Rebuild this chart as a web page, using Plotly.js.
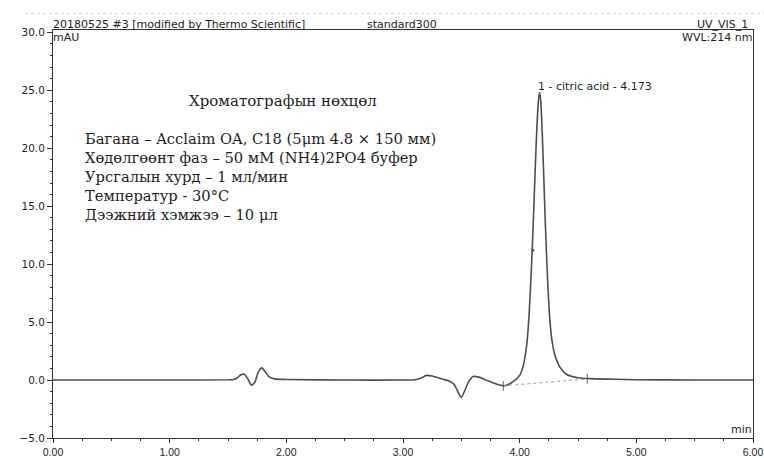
<!DOCTYPE html>
<html>
<head>
<meta charset="utf-8">
<script src="https://cdn.plot.ly/plotly-3.0.1.min.js"></script>
<style>html,body{margin:0;padding:0;background:#fff;}#chart{width:764px;height:458px;}</style>
</head>
<body>
<div id="chart"></div>
<script>
// Retention time (min) and detector signal (mAU)
const timeMin = [0, 0.5, 1.0, 1.5, 1.55, 1.58, 1.61, 1.64, 1.67, 1.70, 1.73, 1.76, 1.79, 1.82, 1.85, 1.9, 2.0, 2.5, 3.0, 3.1, 3.15, 3.2, 3.25, 3.3, 3.35, 3.4, 3.44, 3.47, 3.50, 3.53, 3.56, 3.6, 3.65, 3.7, 3.75, 3.8, 3.86, 3.9, 3.95, 4.0, 4.03, 4.06, 4.08, 4.10, 4.12, 4.14, 4.16, 4.17, 4.18, 4.20, 4.22, 4.24, 4.26, 4.28, 4.30, 4.33, 4.36, 4.40, 4.45, 4.5, 4.6, 4.8, 5.0, 5.5, 6.0];
const signalMAU = [0, 0, 0, 0.02, 0.05, 0.2, 0.45, 0.5, 0.1, -0.45, -0.2, 0.7, 1.05, 0.7, 0.3, 0.1, 0.05, 0.0, 0.0, 0.02, 0.15, 0.4, 0.35, 0.2, 0.05, -0.1, -0.4, -1.0, -1.5, -0.9, -0.2, 0.3, 0.25, 0.05, -0.15, -0.35, -0.5, -0.4, -0.1, 0.4, 1.2, 3.0, 5.5, 9.5, 14.5, 20, 24, 24.8, 24.2, 19.5, 13.5, 8.5, 5.0, 3.2, 2.2, 1.4, 0.9, 0.5, 0.3, 0.2, 0.12, 0.07, 0.03, 0.0, 0.0];

// Integration baseline of peak 1
const baseTime = [3.86, 4.58];
const baseSignal = [-0.5, 0.1];

// Small marker on the left flank of the peak
const flankTime = [4.113];
const flankSignal = [11.2];

// Peak label
const peakName = "1 - citric acid - 4.173";
const peakTime = 4.17;
const peakHeight = 24.8;

// Header and axis texts
const headerLeft = "20180525 #3 [modified by Thermo Scientific]";
const headerMid = "standard300";
const headerRight = "UV_VIS_1";
const yUnit = "mAU";
const wavelength = "WVL:214 nm";
const xUnit = "min";

// Conditions text block
const condTitle = "Хроматографын нөхцөл";
const condLines = [
  "Багана – Acclaim OA, C18 (5μm 4.8 × 150 мм)",
  "Хөдөлгөөнт фаз – 50 мМ (NH4)2PO4 буфер",
  "Урсгалын хурд – 1 мл/мин",
  "Температур - 30°C",
  "Дээжний хэмжээ – 10 μл"
];

const ink = '#333';
const txt = '#1e1e1e';
const sans = 'DejaVu Sans, Verdana, sans-serif';
const narrowSans = 'Liberation Sans, Arial, sans-serif';
const serif = 'DejaVu Serif, Liberation Serif, serif';

const traces = [
  {x: timeMin, y: signalMAU, type: 'scatter', mode: 'lines',
   line: {color: '#46524b', width: 1.6, shape: 'spline', smoothing: 0.6}},
  {x: baseTime, y: baseSignal, type: 'scatter', mode: 'lines+markers',
   line: {color: '#9aa29d', width: 1, dash: 'dot'},
   marker: {symbol: 'line-ns', size: 7, line: {color: '#666', width: 1}}},
  {x: flankTime, y: flankSignal, type: 'scatter', mode: 'markers',
   marker: {symbol: 'circle', size: 3, color: '#555'}}
];

const condY0 = 20.86, condStep = 1.64;
const annotations = [
  {xref: 'paper', yref: 'paper', x: 0, y: 1, xanchor: 'left', yanchor: 'bottom', xshift: -2, yshift: -3,
   text: headerLeft, showarrow: false, font: {family: sans, size: 11, color: txt}},
  {xref: 'paper', yref: 'paper', x: 0.446, y: 1, xanchor: 'left', yanchor: 'bottom', yshift: -3,
   text: headerMid, showarrow: false, font: {family: sans, size: 11, color: txt}},
  {xref: 'paper', yref: 'paper', x: 1, y: 1, xanchor: 'right', yanchor: 'bottom', xshift: -3, yshift: -3,
   text: headerRight, showarrow: false, font: {family: sans, size: 11, color: txt}},
  {xref: 'paper', yref: 'paper', x: 0, y: 1, xanchor: 'left', yanchor: 'top', xshift: -2, yshift: 1,
   text: yUnit, showarrow: false, font: {family: sans, size: 11, color: txt}},
  {xref: 'paper', yref: 'paper', x: 1, y: 1, xanchor: 'right', yanchor: 'top', xshift: 1, yshift: 1,
   text: wavelength, showarrow: false, font: {family: sans, size: 11, color: txt}},
  {xref: 'paper', yref: 'paper', x: 1, y: 0, xanchor: 'right', yanchor: 'bottom', xshift: 1,
   text: xUnit, showarrow: false, font: {family: sans, size: 11, color: txt}},
  {x: peakTime, y: peakHeight, xanchor: 'left', yanchor: 'bottom', xshift: -4, yshift: -2,
   text: peakName, showarrow: false, font: {family: sans, size: 11, color: txt}},
  {x: 1.97, y: 24.05, xanchor: 'center', yanchor: 'middle', text: condTitle, showarrow: false,
   font: {family: serif, size: 15, color: txt}}
];
condLines.forEach((t, i) => annotations.push({
  x: 0.257, y: condY0 - i * condStep, xanchor: 'left', yanchor: 'middle', text: t, showarrow: false,
  font: {family: serif, size: 14.7, color: txt}
}));

const layout = {
  width: 764, height: 458,
  margin: {l: 53, r: 11, t: 30, b: 20, pad: 0},
  paper_bgcolor: '#fff', plot_bgcolor: '#fff',
  showlegend: false,
  xaxis: {range: [0, 6], dtick: 1, tickformat: '.2f', showgrid: false, zeroline: false,
    showline: true, mirror: true, linecolor: ink, linewidth: 1,
    ticks: 'outside', ticklen: 4, tickcolor: ink,
    minor: {dtick: 0.25, ticks: 'outside', ticklen: 2, tickcolor: ink},
    tickfont: {family: narrowSans, size: 10.5, color: txt}},
  yaxis: {range: [-5, 30.2], tick0: 0, dtick: 5, tickformat: '.1f', showgrid: false, zeroline: false,
    showline: true, mirror: true, linecolor: ink, linewidth: 1,
    ticks: 'outside', ticklen: 5, tickcolor: ink,
    minor: {dtick: 1, ticks: 'outside', ticklen: 2, tickcolor: ink},
    tickfont: {family: sans, size: 10.5, color: txt}},
  annotations: annotations,
  shapes: [
    {type: 'line', xref: 'paper', yref: 'paper', x0: -0.04, x1: 1.02, y0: 1.04, y1: 1.04,
     line: {color: '#c8ccd6', width: 1, dash: 'dot'}}
  ]
};

Plotly.newPlot('chart', traces, layout, {staticPlot: true});
</script>
</body>
</html>
